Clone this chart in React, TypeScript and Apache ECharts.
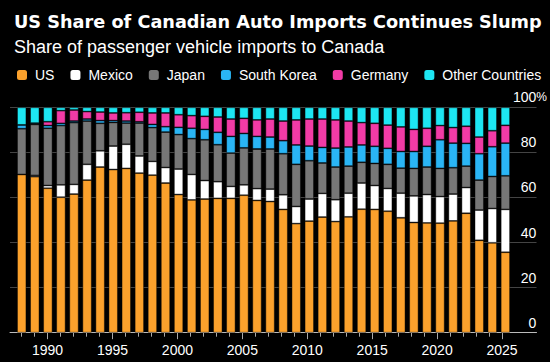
import React, { useEffect, useRef } from "react";
import * as echarts from "echarts";

const years = [1988, 1989, 1990, 1991, 1992, 1993, 1994, 1995, 1996, 1997, 1998, 1999, 2000, 2001, 2002, 2003, 2004, 2005, 2006, 2007, 2008, 2009, 2010, 2011, 2012, 2013, 2014, 2015, 2016, 2017, 2018, 2019, 2020, 2021, 2022, 2023, 2024, 2025];
const labelYears = [1990, 1995, 2000, 2005, 2010, 2015, 2020, 2025];

const us = [70.2, 69.2, 64.1, 60.1, 61.5, 67.7, 73.5, 72.4, 72.9, 70.8, 69.9, 66.4, 61.3, 58.9, 59.3, 59.6, 59.6, 61.0, 58.7, 58.2, 54.7, 48.4, 49.5, 51.3, 49.3, 51.4, 54.8, 54.7, 53.9, 51.0, 48.9, 48.7, 48.6, 49.6, 53.0, 41.0, 39.9, 35.7];
const mexico = [0, 0.6, 1.2, 5.5, 4.3, 7.0, 7.2, 10.4, 10.7, 7.6, 6.1, 6.9, 11.3, 11.3, 8.2, 7.4, 5.3, 4.6, 5.2, 5.5, 6.5, 7.6, 9.8, 10.5, 9.7, 10.5, 11.6, 10.6, 10.1, 10.9, 11.8, 12.6, 11.8, 11.9, 11.4, 13.4, 15.2, 19.0];
const japan = [20.3, 22.6, 25.4, 26.3, 27.4, 19.2, 12.2, 10.5, 9.4, 14.6, 15.0, 15.7, 15.3, 15.9, 18.1, 16.4, 14.8, 16.4, 17.6, 17.8, 18.2, 18.7, 17.0, 13.5, 14.5, 12.0, 9.2, 9.8, 10.7, 11.1, 12.2, 12.2, 12.5, 11.7, 9.5, 13.3, 14.2, 14.9];
const southKorea = [1.7, 0.6, 1.2, 1.0, 0.7, 0.9, 1.2, 0.8, 0.9, 0.6, 1.4, 2.4, 3.2, 4.6, 4.6, 5.5, 7.4, 6.4, 5.6, 5.3, 5.8, 8.6, 6.5, 6.9, 8.4, 8.5, 7.7, 7.6, 7.1, 7.4, 7.5, 9.2, 12.7, 10.9, 10.1, 11.7, 13.2, 14.5];
const germany = [0, 0, 1.7, 5.6, 4.9, 3.3, 3.8, 3.4, 3.7, 4.2, 5.1, 6.1, 5.6, 5.6, 5.8, 6.8, 7.7, 6.7, 7.3, 8.0, 8.7, 11.1, 12.0, 12.6, 12.5, 11.5, 9.9, 10.2, 10.3, 10.9, 9.8, 8.0, 6.3, 6.9, 7.6, 7.4, 7.1, 7.9];
const other = [7.8, 7.0, 6.4, 1.5, 1.2, 1.9, 2.1, 2.5, 2.4, 2.2, 2.5, 2.5, 3.3, 3.7, 4.0, 4.3, 5.2, 4.9, 5.6, 5.2, 6.1, 5.6, 5.2, 5.2, 5.6, 6.1, 6.8, 7.1, 7.9, 8.7, 9.8, 9.3, 8.1, 9.0, 8.4, 13.2, 10.4, 8.0];

const seriesNames = ["US", "Mexico", "Japan", "South Korea", "Germany", "Other Countries"];
const seriesValues = [us, mexico, japan, southKorea, germany, other];
const colors = ["#FBA12C", "#FFFFFF", "#777777", "#2AB5F5", "#F23BA6", "#1DE6F2"];

const FONT = "Liberation Sans";

export default function App() {
  const ref = useRef<HTMLDivElement>(null);
  useEffect(() => {
    if (!ref.current) return;
    const chart = echarts.init(ref.current, null, { renderer: "svg" });
    const xMin = 1987.105;
    const xMax = 2027.655;
    const gTop = 107.3;
    const gBottom = 29.3;
    chart.setOption({
      animation: false,
      backgroundColor: "#000000",
      title: [
        {
          text: "US Share of Canadian Auto Imports Continues Slump",
          left: 9,
          top: 8,
          textStyle: { color: "#ffffff", fontSize: 17.7, fontWeight: "bold", fontFamily: "DejaVu Sans" },
        },
        {
          text: "Share of passenger vehicle imports to Canada",
          left: 9,
          top: 33,
          textStyle: { color: "#ffffff", fontSize: 18, fontWeight: "normal", fontFamily: FONT },
        },
      ],
      legend: {
        data: seriesNames,
        left: 12,
        top: 63,
        width: 540,
        icon: "roundRect",
        itemWidth: 10,
        itemHeight: 10,
        itemGap: 16,
        itemStyle: { borderWidth: 0 },
        textStyle: { color: "#ffffff", fontSize: 14, fontFamily: FONT, padding: [0, 0, 0, 3] },
      },
      grid: [
        { left: 15.17, right: 38.1, top: gTop, bottom: gBottom },
        { left: 10, right: 10, top: gTop, bottom: gBottom },
      ],
      xAxis: [
        {
          type: "category",
          gridIndex: 0,
          data: years,
          axisLine: { show: false },
          axisTick: { show: false },
          axisLabel: { show: false },
          splitLine: { show: false },
        },
        {
          type: "value",
          gridIndex: 1,
          min: xMin,
          max: xMax,
          axisLine: { show: true, lineStyle: { color: "#bbbbbb", width: 1 } },
          axisTick: { show: true, length: 4, customValues: years, lineStyle: { color: "#aaaaaa" } },
          axisLabel: {
            show: true,
            customValues: labelYears,
            color: "#ffffff",
            fontSize: 14,
            fontFamily: FONT,
            margin: 10,
            formatter: (v: number) => String(v),
          },
          splitLine: { show: false },
        },
        {
          type: "value",
          gridIndex: 1,
          min: xMin,
          max: xMax,
          position: "bottom",
          axisLine: { show: false },
          axisTick: { show: true, length: 6.5, customValues: labelYears, lineStyle: { color: "#aaaaaa" } },
          axisLabel: { show: false },
          splitLine: { show: false },
        },
      ],
      yAxis: [
        {
          type: "value",
          gridIndex: 0,
          min: 0,
          max: 100,
          show: false,
          splitLine: { show: false },
        },
        {
          type: "value",
          gridIndex: 1,
          min: 0,
          max: 100,
          interval: 20,
          position: "right",
          axisLine: { show: false },
          axisTick: { show: false },
          splitLine: { show: true, lineStyle: { color: "#444444", width: 1 } },
          axisLabel: {
            inside: true,
            margin: -10.5,
            align: "right",
            verticalAlign: "bottom",
            color: "#ffffff",
            fontSize: 14,
            fontFamily: FONT,
            padding: [0, 0, 3, 0],
            formatter: (v: number) => (v === 100 ? "100{p|%}" : v + "{h|%}"),
            rich: {
              p: { color: "#ffffff", fontSize: 12, fontFamily: FONT },
              h: { color: "rgba(0,0,0,0)", fontSize: 12, fontFamily: FONT },
            },
          },
        },
      ],
      series: seriesNames.map((name, si) => ({
        name,
        type: "bar",
        stack: "total",
        xAxisIndex: 0,
        yAxisIndex: 0,
        barWidth: 9.3,
        color: colors[si],
        itemStyle: { color: colors[si], borderColor: "rgba(0,0,0,0.55)", borderWidth: 0.8 },
        emphasis: { disabled: true },
        data: seriesValues[si],
      })),
    });
    return () => chart.dispose();
  }, []);
  return <div ref={ref} style={{ width: 550, height: 362, position: "absolute", left: 0, top: 0 }} />;
}
